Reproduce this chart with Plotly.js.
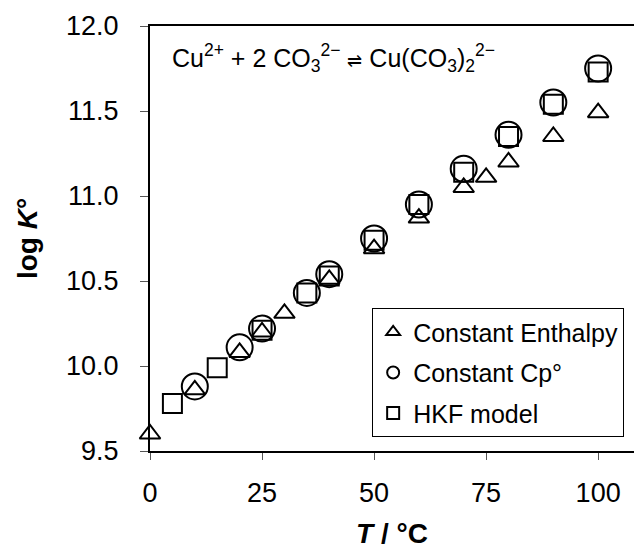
<!DOCTYPE html>
<html>
<head>
<meta charset="utf-8">
<script src="https://cdn.plot.ly/plotly-3.0.1.min.js"></script>
<style>html,body{margin:0;padding:0;background:#fff;}#chart{width:634px;height:556px;}</style>
</head>
<body>
<div id="chart"></div>
<script>
// Constant Enthalpy (triangles)
const tEnthalpy = [0, 10, 20, 25, 30, 40, 50, 60, 70, 75, 80, 90, 100];
const logKEnthalpy = [9.60, 9.86, 10.08, 10.20, 10.31, 10.51, 10.69, 10.87, 11.05, 11.11, 11.20, 11.35, 11.49];
// Constant Cp° (circles)
const tCp = [10, 20, 25, 35, 40, 50, 60, 70, 80, 90, 100];
const logKCp = [9.88, 10.11, 10.22, 10.43, 10.54, 10.75, 10.95, 11.16, 11.36, 11.55, 11.75];
// HKF model (squares)
const tHKF = [5, 15, 25, 35, 40, 50, 60, 70, 80, 90, 100];
const logKHKF = [9.78, 9.99, 10.21, 10.43, 10.53, 10.74, 10.95, 11.14, 11.35, 11.54, 11.73];

const xTicks = [0, 25, 50, 75, 100];
const yTicks = [9.5, 10.0, 10.5, 11.0, 11.5, 12.0];
const yTickLabels = ['9.5', '10.0', '10.5', '11.0', '11.5', '12.0'];

const FONT = 'Arial, "Liberation Sans", sans-serif';

const traces = [
  {x: tEnthalpy, y: logKEnthalpy, name: 'Constant Enthalpy', type: 'scatter', mode: 'markers',
   legendgroup: 'a', cliponaxis: false,
   marker: {symbol: 'triangle-up-open', size: 18, color: '#000', line: {width: 2, color: '#000'}}},
  {x: tCp, y: logKCp, name: 'Constant Cp°', type: 'scatter', mode: 'markers',
   legendgroup: 'b', cliponaxis: false,
   marker: {symbol: 'circle-open', size: 26, color: '#000', line: {width: 2, color: '#000'}}},
  {x: tHKF, y: logKHKF, name: 'HKF model', type: 'scatter', mode: 'markers',
   legendgroup: 'c', cliponaxis: false,
   marker: {symbol: 'square-open', size: 19, color: '#000', line: {width: 2, color: '#000'}}}
];

const layout = {
  width: 634, height: 556,
  margin: {l: 150, r: 0, t: 26, b: 105, pad: 0},
  paper_bgcolor: '#fff', plot_bgcolor: '#fff',
  font: {family: FONT, size: 26, color: '#000'},
  showlegend: true,
  legend: {
    x: 0.459, y: 0.336, xanchor: 'left', yanchor: 'top',
    bordercolor: '#000', borderwidth: 1, bgcolor: '#fff',
    font: {family: FONT, size: 25, color: '#000'},
    itemsizing: 'constant', itemwidth: 30, tracegroupgap: 5,
    traceorder: 'grouped'
  },
  xaxis: {
    range: [0, 108], tickvals: xTicks, ticktext: xTicks.map(String),
    showgrid: false, zeroline: false,
    showline: true, linecolor: '#000', linewidth: 2, mirror: true,
    ticks: 'outside', ticklen: 7, tickwidth: 1, tickcolor: '#555',
    ticklabelstandoff: 10,
    tickfont: {family: FONT, size: 27, color: '#000'},
    title: {text: '<b><i>T</i> / °C</b>', font: {family: FONT, size: 28, color: '#000'}, standoff: 16}
  },
  yaxis: {
    range: [9.5, 12.0], tickvals: yTicks, ticktext: yTickLabels,
    showgrid: false, zeroline: false,
    showline: true, linecolor: '#000', linewidth: 2, mirror: false,
    ticks: 'outside', ticklen: 8, tickwidth: 1, tickcolor: '#555',
    ticklabelstandoff: 16,
    tickfont: {family: FONT, size: 27, color: '#000'},
    title: {text: '<b>log <i>K</i>°</b>', font: {family: FONT, size: 28, color: '#000'}, standoff: 20}
  },
  annotations: [{
    xref: 'paper', yref: 'paper', x: 0.042, y: 0.925, xanchor: 'left', yanchor: 'middle',
    showarrow: false,
    text: 'Cu<sup>2+</sup> + 2 CO<sub>3</sub><sup>2−</sup> <span style="font-size:18px">⇌</span> Cu(CO<sub>3</sub>)<sub>2</sub><sup>2−</sup>',
    font: {family: FONT, size: 25, color: '#000'}
  }]
};

Plotly.newPlot('chart', traces, layout, {displayModeBar: false, staticPlot: true});
</script>
</body>
</html>
